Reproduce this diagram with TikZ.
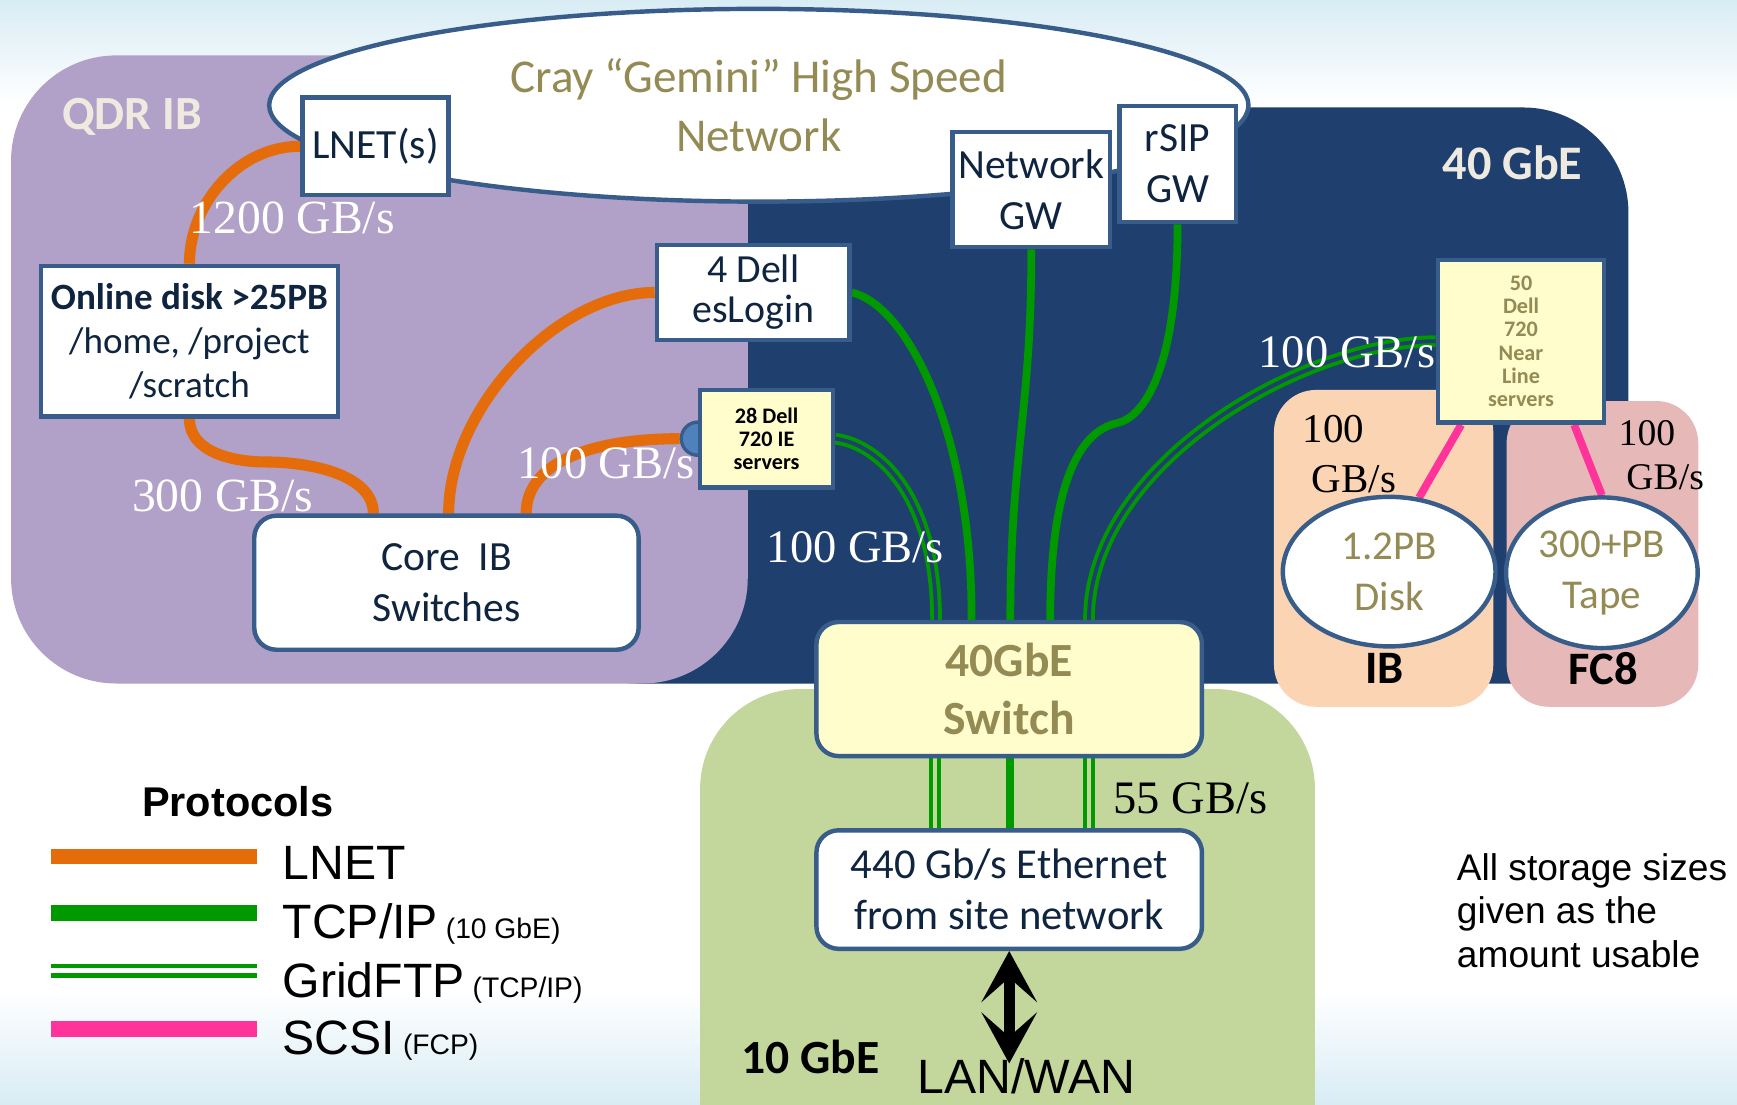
\documentclass[tikz,border=0pt]{standalone}
\usepackage{fontspec}
\setmainfont{Carlito}
\newfontfamily\serifface{Liberation Serif}
\newfontfamily\arialface{Liberation Sans}
\usepackage{tikz}
\usetikzlibrary{arrows.meta, shapes.geometric, calc}
\definecolor{qdrpurple}{HTML}{B1A0C7}
\definecolor{gbeblue}{HTML}{1F406F}
\definecolor{tengreen}{HTML}{C3D69B}
\definecolor{ibpeach}{HTML}{FBD4B4}
\definecolor{fcpink}{HTML}{E6B9B8}
\definecolor{edgeblue}{HTML}{385D8A}
\definecolor{boxnavy}{HTML}{0F243E}
\definecolor{paleyellow}{HTML}{FFFDCC}
\definecolor{olivetext}{HTML}{948A54}
\definecolor{lnetorange}{HTML}{E46C0A}
\definecolor{tcpgreen}{HTML}{009900}
\definecolor{scsipink}{HTML}{FF3399}
\definecolor{skyfade}{HTML}{D8ECF4}
\definecolor{labelcream}{HTML}{EEEAE0}
\definecolor{blobblue}{HTML}{4F81BD}
\newcommand{\setsz}[2]{\fontsize{#1}{#2}\selectfont}
\pgfdeclarelayer{regions}
\pgfdeclarelayer{links}
\pgfdeclarelayer{jack}
\pgfsetlayers{regions,links,jack,main}

\begin{document}
\begin{tikzpicture}[x=1pt, y=-1pt,
    box/.style={draw=edgeblue, line width=4pt, fill=white, text=boxnavy, align=center, inner sep=0pt},
    roundbox/.style={box, rounded corners=20pt},
    servbox/.style={box, fill=paleyellow, font=\bfseries\setsz{20}{21}},
    store/.style={ellipse, draw=edgeblue, line width=4pt, fill=white, text=olivetext, align=center, inner sep=0pt, font=\setsz{37}{46}},
    rate/.style={font=\serifface\setsz{43}{46}, text=white, inner sep=0pt, anchor=base west},
    ratedark/.style={font=\serifface\setsz{37}{45}, text=black, inner sep=0pt, align=left, anchor=west},
    zone/.style={font=\bfseries\setsz{42}{44}, inner sep=0pt, anchor=base west},
    legtext/.style={font=\arialface\setsz{43.5}{46}, inner sep=0pt, anchor=base west},
    lnetline/.style={lnetorange, line width=10pt},
    tcpline/.style={tcpgreen, line width=7pt},
    ftpline/.style={draw=tcpgreen, line width=3.5pt, double=gbeblue, double distance=3.5pt},
    scsiline/.style={scsipink, line width=7pt},
  ]
    \useasboundingbox (0,0) rectangle (1568,997);

    % Backdrop and network zones
    \begin{pgfonlayer}{regions}
        \fill[white] (0,0) rectangle (1568,997);
        \fill[top color=skyfade, bottom color=white] (0,0) rectangle (1568,95);
        \fill[top color=white, bottom color=skyfade] (0,895) rectangle (1568,997);
        \fill[gbeblue, rounded corners=95pt] (480,97) rectangle (1470,617);
        \fill[qdrpurple, rounded corners=95pt] (10,50) rectangle (675,617);
        \fill[tengreen, rounded corners=90pt] (632,622) rectangle (1187,1200);
        \fill[ibpeach, rounded corners=38pt] (1150,352) rectangle (1348,638);
        \fill[fcpink, rounded corners=38pt] (1360,362) rectangle (1533,638);
    \end{pgfonlayer}

    % Gemini network
    \node[ellipse, draw=edgeblue, line width=4pt, fill=white, text=olivetext, align=center, inner sep=0pt,
          minimum width=884pt, minimum height=174pt, font=\setsz{42.5}{53}] (gemini) at (685,95) {Cray “Gemini” High Speed\\Network};

    % Boxes
    \node[box, minimum width=132pt, minimum height=88pt, font=\setsz{37.5}{44}] (lnet) at (339,132) {LNET(s)};
    \node[box, minimum width=268pt, minimum height=136pt, font=\setsz{33.5}{40}] (disk) at (171,308) {\textbf{Online disk >25PB}\\/home, /project\\/scratch};
    \node[box, minimum width=174pt, minimum height=86pt, font=\setsz{36}{36}] (eslogin) at (680,264) {4 Dell\\esLogin};
    \node[servbox, text=black, minimum width=120pt, minimum height=88pt] (ie) at (692,396) {28 Dell\\720 IE\\servers};
    \node[box, minimum width=142pt, minimum height=104pt, font=\setsz{37.5}{46}] (netgw) at (931,171) {Network\\GW};
    \node[box, minimum width=105pt, minimum height=105pt, font=\setsz{37.5}{46}] (rsip) at (1063,148) {rSIP\\GW};
    \node[servbox, text=olivetext, minimum width=150pt, minimum height=147pt] (nl) at (1373,308) {50\\Dell\\720\\Near\\Line\\servers};
    \node[roundbox, minimum width=347pt, minimum height=121pt, font=\setsz{37.5}{46}] (core) at (403,526) {Core\ \ IB\\Switches};
    \node[roundbox, fill=paleyellow, text=olivetext, minimum width=348pt, minimum height=121pt, font=\bfseries\setsz{43}{52}] (sw) at (911,622) {40GbE\\Switch};
    \node[roundbox, minimum width=348pt, minimum height=107pt, font=\setsz{38.5}{46}] (eth) at (911,803) {440 Gb/s Ethernet\\from site network};
    \node[store, minimum width=192pt, minimum height=135pt] (pbdisk) at (1254,516) {1.2PB\\Disk};
    \node[store, minimum width=173pt, minimum height=136pt] (tape) at (1446,517) {300+PB\\Tape};

    % Jack on the IE servers
    \begin{pgfonlayer}{jack}
        \node[circle, draw=edgeblue, fill=blobblue, line width=3pt, minimum size=30pt, inner sep=0pt] (iejack) at (ie.west) {};
    \end{pgfonlayer}

    % Links
    \begin{pgfonlayer}{links}
        \draw[lnetline] (lnet.west) .. controls +(-55,0) and +(0,-55) .. (disk.north);
        \draw[lnetline] (disk.south) .. controls +(0,30) and +(-30,0) .. (240,417) .. controls +(40,0) and +(0,-35) .. ([xshift=-66pt]core.north);
        \draw[lnetline] ([xshift=2pt]core.north) .. controls +(0,-95) and +(-88,0) .. (eslogin.west);
        \draw[lnetline] ([xshift=72pt]core.north) .. controls +(0,-46) and +(-80,0) .. (iejack.west);
        \draw[tcpline] (eslogin.east) .. controls +(53,13) and +(1,-162) .. ([xshift=-34pt]sw.north);
        \draw[tcpline] (netgw.south) .. controls +(0,150) and +(0,-150) .. ([xshift=1pt]sw.north);
        \draw[tcpline] (rsip.south) .. controls +(0,130) and +(25,-5) .. (1008,382) .. controls +(-35,8) and +(0,-120) .. ([xshift=37pt]sw.north);
        \draw[ftpline] (ie.east) .. controls +(40,5) and +(0,-110) .. ([xshift=-66pt]sw.north);
        \draw[ftpline] (nl.west) .. controls +(-118,0) and +(0,-142) .. ([xshift=72pt]sw.north);
        \draw[ftpline, double=tengreen] ([xshift=-67pt]sw.south) -- ([xshift=-67pt]eth.north);
        \draw[tcpline] ([xshift=1pt]sw.south) -- ([xshift=1pt]eth.north);
        \draw[ftpline, double=tengreen] ([xshift=72pt]sw.south) -- ([xshift=72pt]eth.north);
        \draw[scsiline] ([xshift=-54pt]nl.south) -- (pbdisk.68);
        \draw[scsiline] ([xshift=48pt]nl.south) -- (tape.north);
    \end{pgfonlayer}

    % Outside world
    \coordinate (lantip) at (911,960);
    \draw[line width=10pt, {Stealth[length=46pt,width=50pt,inset=22pt]}-{Stealth[length=46pt,width=50pt,inset=22pt]}] (eth.south) -- (lantip);
    \node[legtext] (lan) at (828,987) {LAN/WAN};

    % Zone labels
    \node[zone, text=labelcream, font=\bfseries\setsz{43}{46}] (qdr) at (56,117) {QDR IB};
    \node[zone, text=labelcream, font=\bfseries\setsz{43.5}{46}] (fortygbe) at (1302,162) {40 GbE};
    \node[zone] (ib) at (1232,617) {IB};
    \node[zone] (fc) at (1416,618) {FC8};
    \node[zone, font=\bfseries\setsz{43}{46}] (tengbe) at (669,969) {10 GbE};

    % Bandwidths
    \node[rate] (r1200) at (171,211) {1200 GB/s};
    \node[rate] (r300) at (119,462) {300 GB/s};
    \node[rate, font=\serifface\setsz{42}{46}] (rie) at (467,432) {100 GB/s};
    \node[rate, font=\serifface\setsz{42}{46}] (rmid) at (692,508) {100 GB/s};
    \node[rate, font=\serifface\setsz{42}{46}] (rnl) at (1136,332) {100 GB/s};
    \node[ratedark] (rdisk) at (1176,410) {100\\\hspace*{8pt}GB/s};
    \node[ratedark, font=\serifface\setsz{34}{40}] (rtape) at (1461,411) {100\\\hspace*{7pt}GB/s};
    \node[ratedark, font=\serifface\setsz{42}{44}, anchor=base west] (r55) at (1005,734) {55 GB/s};

    % Legend
    \node[font=\arialface\bfseries\setsz{37.5}{40}, inner sep=0pt, anchor=base west] (legtitle) at (128,737) {Protocols};
    \draw[lnetorange, line width=14pt] (46,773) -- (232,773);
    \draw[tcpgreen, line width=15pt] (46,824) -- (232,824);
    \draw[tcpgreen, line width=4.5pt, double=white, double distance=4.5pt] (46,876.5) -- (232,876.5);
    \draw[scsipink, line width=14.5pt] (46,929) -- (232,929);
    \node[legtext] (leglnet) at (255,794) {LNET};
    \node[legtext] (legtcp) at (255,847) {TCP/IP{\setsz{25.5}{26} (10 GbE)}};
    \node[legtext] (legftp) at (255,900) {GridFTP{\setsz{25.5}{26} (TCP/IP)}};
    \node[legtext] (legscsi) at (255,952) {SCSI{\setsz{25.5}{26} (FCP)}};

    % Note
    \node[font=\arialface\setsz{33.5}{39.5}, align=left, inner sep=0pt, anchor=west] (note) at (1315,822) {All storage sizes\\given as the\\amount usable};
\end{tikzpicture}
\end{document}
